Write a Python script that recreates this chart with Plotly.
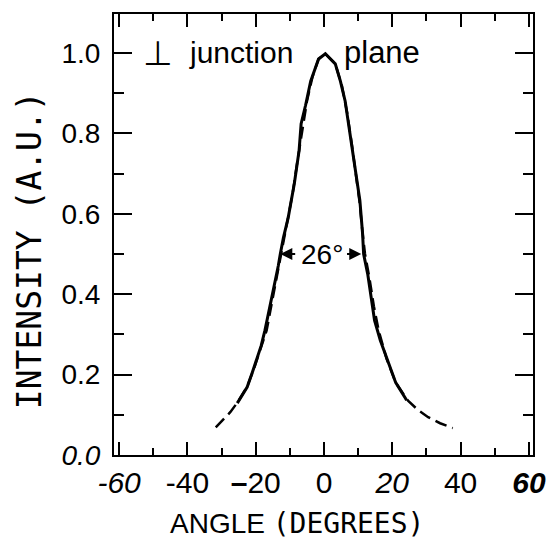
import plotly.graph_objects as go

# measured profile (solid)
solid_angle = [-25.4, -24.0, -22.5, -21.0, -19.6, -18.4, -17.3, -15.9, -14.5, -13.4, -12.8, -11.9, -10.5, -8.7, -7.3, -6.7, -5.4, -3.9, -1.6, 0.4,
               3.3, 4.8, 6.2, 7.6, 9.0, 10.5, 11.3, 11.6, 12.8, 13.9, 14.8, 16.5, 18.5, 21.0, 24.2]
solid_int = [0.129, 0.148, 0.169, 0.205, 0.243, 0.272, 0.31, 0.365, 0.427, 0.47, 0.50, 0.54, 0.59, 0.675, 0.757, 0.824, 0.87, 0.93, 0.985, 0.998,
             0.973, 0.93, 0.88, 0.80, 0.715, 0.633, 0.55, 0.50, 0.45, 0.385, 0.335, 0.285, 0.236, 0.18, 0.136]

# fitted profile (dashed)
dash_angle = [-31.7, -27.4, -25.0, -22.5, -20.5, -18.8, -16.8, -14.8, -13.2, -12.2, -10.8, -9.2, -7.8, -6.4, -5.0, -3.4, -1.6, 0.4,
              3.3, 5.2, 6.8, 8.2, 9.4, 10.4, 11.2, 12.0, 13.3, 14.6, 16.0, 18.3, 21.0, 24.6, 27.5, 30.5, 34.0, 37.7]
dash_int = [0.069, 0.107, 0.135, 0.17, 0.215, 0.26, 0.31, 0.40, 0.47, 0.52, 0.58, 0.65, 0.73, 0.81, 0.88, 0.94, 0.985, 0.998,
            0.973, 0.92, 0.85, 0.77, 0.70, 0.63, 0.56, 0.50, 0.44, 0.37, 0.31, 0.24, 0.18, 0.135, 0.112, 0.094, 0.079, 0.067]

x_tick_vals = [-60, -40, -20, 0, 20, 40, 60]
x_tick_text = ["<i>-60</i>", "-40", "<b>\u2013</b>20", "0", "<i>20</i>", "40", "<b><i>60</i></b>"]
y_tick_vals = [0.0, 0.2, 0.4, 0.6, 0.8, 1.0]
y_tick_text = ["<i>0.0</i>", "0.2", "0.4", "0.6", "0.8", "1.0"]

fwhm_left, fwhm_right, fwhm_level = -12.8, 10.9, 0.5

fig = go.Figure()
fig.add_trace(go.Scatter(x=solid_angle, y=solid_int, mode="lines",
                         line=dict(color="black", width=3), showlegend=False))
fig.add_trace(go.Scatter(x=dash_angle, y=dash_int, mode="lines",
                         line=dict(color="black", width=2.5, dash="12px,6px"), showlegend=False))

font_main = "Liberation Sans, Arial, sans-serif"
font_mono = "DejaVu Sans Mono, monospace"

fig.update_layout(
    width=558, height=542,
    margin=dict(l=114, r=16, t=13, b=87),
    paper_bgcolor="white", plot_bgcolor="white",
    font=dict(family=font_main, color="black"),
    xaxis=dict(range=[-61.5, 61.2], showgrid=False, zeroline=False,
               showline=True, linecolor="black", linewidth=2, mirror="allticks",
               tickmode="array", tickvals=x_tick_vals, ticktext=x_tick_text,
               ticks="inside", ticklen=13, tickwidth=2, tickcolor="black",
               tickfont=dict(size=30, family=font_main),
               minor=dict(dtick=10, tick0=0, ticks="inside", ticklen=7, tickwidth=2, tickcolor="black")),
    yaxis=dict(range=[0, 1.097], showgrid=False, zeroline=False,
               showline=True, linecolor="black", linewidth=2, mirror="allticks",
               tickmode="array", tickvals=y_tick_vals, ticktext=y_tick_text,
               ticks="inside", ticklen=18, tickwidth=2, tickcolor="black",
               tickfont=dict(size=28, family=font_main), ticklabelstandoff=6,
               minor=dict(dtick=0.1, tick0=0, ticks="inside", ticklen=10, tickwidth=2, tickcolor="black")),
)

fig.add_annotation(xref="paper", yref="paper", x=0.437, y=-0.155,
                   text="ANGLE <span style='font-family:DejaVu Sans Mono'>(DEGREES)</span>",
                   showarrow=False, font=dict(size=28, family=font_main), xanchor="center", yanchor="middle")
fig.add_annotation(xref="paper", yref="paper", x=-0.201, y=0.464, text="INTENSITY (A.U.)",
                   showarrow=False, textangle=-90, font=dict(size=33, family=font_mono),
                   xanchor="center", yanchor="middle")
fig.add_annotation(x=-48.5, y=1.0, text="\u22a5", showarrow=False,
                   font=dict(size=34, family="DejaVu Sans"), xanchor="center", yanchor="middle")
fig.add_annotation(x=-40.0, y=1.0, text="junction", showarrow=False,
                   font=dict(size=30, family=font_main), xanchor="left", yanchor="middle")
fig.add_annotation(x=5.3, y=1.0, text="plane", showarrow=False,
                   font=dict(size=31, family=font_main), xanchor="left", yanchor="middle")

# FWHM arrows
fig.add_annotation(x=fwhm_left, y=fwhm_level, ax=-8.0, ay=fwhm_level, axref="x", ayref="y",
                   showarrow=True, arrowhead=2, arrowsize=1.2, arrowwidth=2, arrowcolor="black", text="")
fig.add_annotation(x=fwhm_right, y=fwhm_level, ax=6.3, ay=fwhm_level, axref="x", ayref="y",
                   showarrow=True, arrowhead=2, arrowsize=1.2, arrowwidth=2, arrowcolor="black", text="")
fig.add_annotation(x=-0.6, y=fwhm_level, text="26\u00b0", showarrow=False,
                   font=dict(size=28, family=font_main), xanchor="center", yanchor="middle")

fig.write_html("out.html")
